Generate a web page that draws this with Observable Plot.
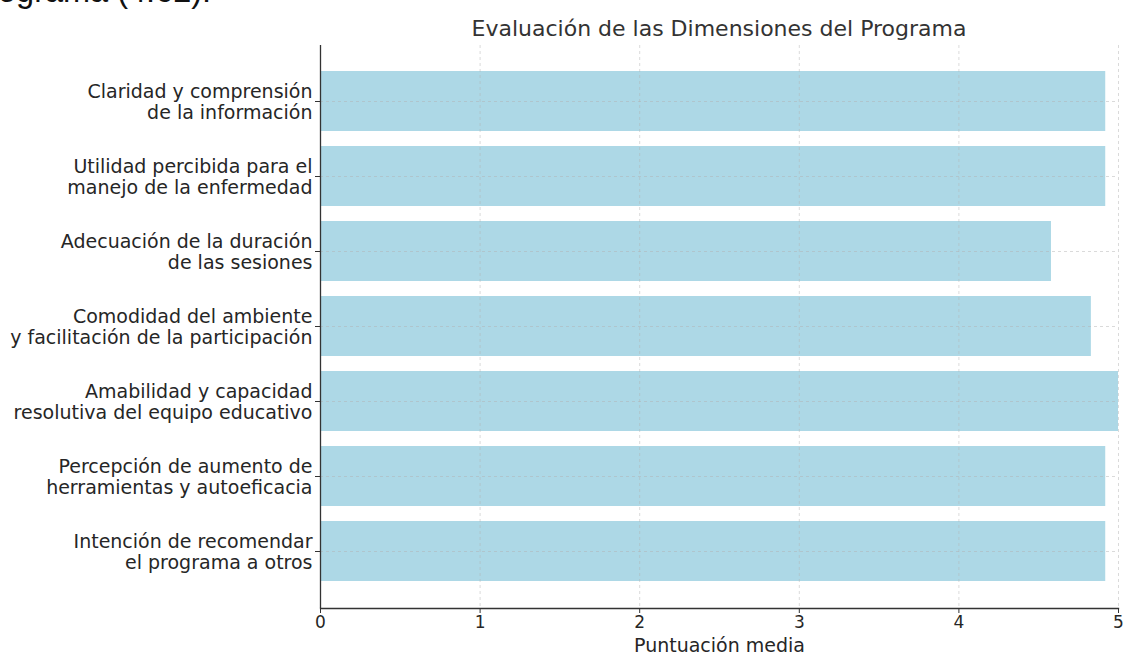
<!DOCTYPE html>
<html>
<head>
<meta charset="utf-8">
<script src="https://cdn.jsdelivr.net/npm/d3@7"></script>
<script src="https://cdn.jsdelivr.net/npm/@observablehq/plot@0.6"></script>
<style>
  html, body { margin: 0; padding: 0; background: #fff; }
  #wrap { position: relative; width: 1123px; height: 655px; overflow: hidden; }
  #doc { position: absolute; left: -2px; top: -28px; font-family: "Liberation Sans", Arial, sans-serif; font-size: 32.5px; line-height: 38px; color: #111; white-space: nowrap; }
  #title { position: absolute; left: 320px; width: 798px; top: 16px; text-align: center; font-family: "DejaVu Sans", sans-serif; font-size: 22px; line-height: 26px; color: #333; }
  #chart { position: absolute; left: 0; top: 0; }
</style>
</head>
<body>
<div id="wrap">
  <div id="chart"></div>
  <div id="doc">ograma (4.62).</div>
  <div id="title">Evaluación de las Dimensiones del Programa</div>
</div>
<script>
const categories = [
  "Claridad y comprensión\nde la información",
  "Utilidad percibida para el\nmanejo de la enfermedad",
  "Adecuación de la duración\nde las sesiones",
  "Comodidad del ambiente\ny facilitación de la participación",
  "Amabilidad y capacidad\nresolutiva del equipo educativo",
  "Percepción de aumento de\nherramientas y autoeficacia",
  "Intención de recomendar\nel programa a otros"
];
const scores = [4.92, 4.92, 4.58, 4.83, 5.0, 4.92, 4.92];
const xTicks = [0, 1, 2, 3, 4, 5];
const xLabel = "Puntuación media";

const data = categories.map((c, i) => ({dimension: c, score: scores[i]}));
const font = "DejaVu Sans, sans-serif";

const chart = Plot.plot({
  width: 1123,
  height: 655,
  marginLeft: 320,
  marginRight: 5,
  marginTop: 45,
  marginBottom: 47,
  style: {fontFamily: font, background: "white", color: "#262626"},
  x: {domain: [0, 5]},
  y: {domain: categories, paddingInner: 0.2, paddingOuter: 0.1, insetTop: 18, insetBottom: 18.5},
  marks: [
    Plot.barX(data, {y: "dimension", x: "score", fill: "#add8e6"}),
    Plot.gridX({ticks: xTicks.filter(d => d > 0), stroke: "#b0b0b0", strokeOpacity: 0.6, strokeDasharray: "3,3", strokeWidth: 0.8}),
    Plot.gridY({stroke: "#b0b0b0", strokeOpacity: 0.6, strokeDasharray: "3,3", strokeWidth: 0.8}),
    Plot.ruleX([0], {stroke: "#333", strokeWidth: 1.3}),
    Plot.frame({anchor: "bottom", stroke: "#333", strokeWidth: 1.3}),
    Plot.axisX({ticks: xTicks, tickFormat: d3.format("d"), tickSize: 5, tickPadding: 2, fontSize: 17, label: null, stroke: "#333"}),
    Plot.axisY({tickSize: 5, tickPadding: 3, fontSize: 19, lineHeight: 1.1, label: null, stroke: "#333"}),
    Plot.text([xLabel], {frameAnchor: "bottom", lineAnchor: "middle", dy: 37, fontSize: 19, fill: "#262626"})
  ]
});
document.getElementById("chart").appendChild(chart);
</script>
</body>
</html>
